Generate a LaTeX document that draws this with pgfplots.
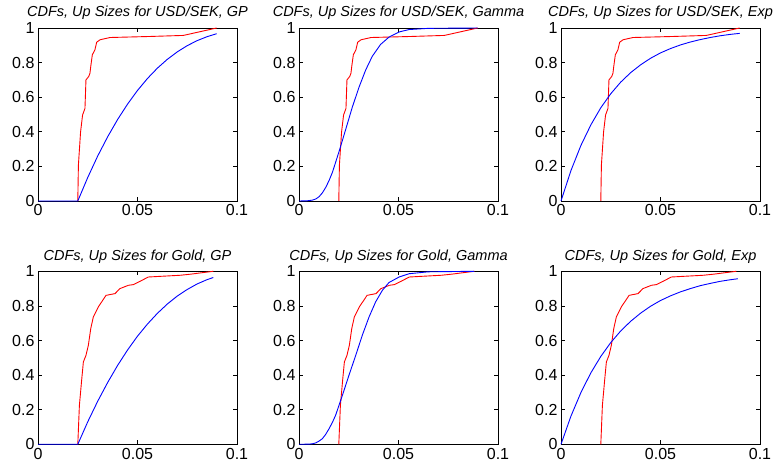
\documentclass[border=0pt]{standalone}
\usepackage{fontspec}
\setmainfont{Liberation Sans}
\usepackage{pgfplots}
\pgfplotsset{compat=1.18}
\usepackage{pgfplotstable}

% empirical CDFs (red)
\pgfplotstableread{
x y
0.0200 0
0.0203 0.207
0.0214 0.400
0.0224 0.497
0.0236 0.535
0.0241 0.700
0.0255 0.720
0.0261 0.738
0.0265 0.777
0.0273 0.845
0.0286 0.874
0.0295 0.918
0.0312 0.932
0.0362 0.945
0.0563 0.951
0.0730 0.957
0.0898 1.000
}\usdemp

\pgfplotstableread{
x y
0.0200 0
0.0208 0.225
0.0220 0.379
0.0228 0.476
0.0241 0.514
0.0253 0.572
0.0265 0.668
0.0278 0.736
0.0303 0.794
0.0320 0.823
0.0342 0.861
0.0387 0.871
0.0412 0.900
0.0454 0.919
0.0479 0.923
0.0513 0.942
0.0554 0.967
0.0714 0.977
0.0764 0.983
0.0881 1.000
}\goldemp

% fitted CDFs (blue)
\pgfplotstableread{
x y
0 0
0.0200 0
0.0250 0.136
0.0300 0.260
0.0350 0.371
0.0400 0.471
0.0450 0.560
0.0500 0.639
0.0550 0.708
0.0600 0.768
0.0650 0.819
0.0700 0.862
0.0750 0.898
0.0800 0.927
0.0850 0.950
0.0898 0.967
}\usdgp

\pgfplotstableread{
x y
0 0
0.0040 0.001
0.0067 0.005
0.0085 0.012
0.0101 0.025
0.0118 0.048
0.0134 0.078
0.0151 0.118
0.0168 0.166
0.0201 0.285
0.0235 0.415
0.0268 0.543
0.0302 0.659
0.0335 0.757
0.0368 0.836
0.0410 0.905
0.0452 0.947
0.0503 0.977
0.0553 0.991
0.0650 0.998
0.0898 1.000
}\usdgam

\pgfplotstableread{
x y
0 0
0.005 0.176
0.010 0.321
0.015 0.440
0.020 0.539
0.025 0.620
0.030 0.687
0.035 0.742
0.040 0.787
0.045 0.825
0.050 0.856
0.055 0.881
0.060 0.902
0.065 0.919
0.070 0.933
0.075 0.945
0.080 0.955
0.085 0.963
0.0898 0.969
}\usdexp

\pgfplotstableread{
x y
0 0
0.0200 0
0.0250 0.130
0.0300 0.249
0.0350 0.357
0.0400 0.456
0.0450 0.545
0.0500 0.625
0.0550 0.695
0.0600 0.757
0.0650 0.811
0.0700 0.857
0.0750 0.895
0.0800 0.927
0.0850 0.952
0.0881 0.964
}\goldgp

\pgfplotstableread{
x y
0 0
0.0050 0.001
0.0067 0.003
0.0084 0.008
0.0100 0.018
0.0117 0.032
0.0134 0.057
0.0151 0.090
0.0168 0.127
0.0184 0.168
0.0218 0.283
0.0251 0.399
0.0285 0.514
0.0318 0.630
0.0352 0.736
0.0385 0.823
0.0419 0.890
0.0452 0.935
0.0503 0.967
0.0553 0.986
0.0650 0.997
0.0881 1.000
}\goldgam

\pgfplotstableread{
x y
0 0
0.005 0.163
0.010 0.299
0.015 0.413
0.020 0.508
0.025 0.588
0.030 0.655
0.035 0.711
0.040 0.758
0.045 0.798
0.050 0.831
0.055 0.858
0.060 0.881
0.065 0.900
0.070 0.917
0.075 0.930
0.080 0.942
0.085 0.951
0.0889 0.957
}\goldexp

\pgfplotsset{
  cdfax/.style={
    scale only axis, width=199pt, height=173pt,
    xmin=0, xmax=0.1, ymin=0, ymax=1,
    xtick={0,0.05,0.1},
    ytick={0,0.2,0.4,0.6,0.8,1},
    scaled ticks=false,
    /pgf/number format/fixed,
    /pgf/number format/precision=2,
    /pgf/number format/assume math mode=true,
    tick align=inside,
    major tick length=4pt,
    tick style={black, line width=0.6pt},
    axis line style={line width=0.8pt},
    tick label style={font=\fontsize{16}{16}\selectfont},
    title style={font=\fontsize{14.5}{14.5}\selectfont\itshape,
      at={(0.5,1)}, anchor=base, yshift=5pt},
    clip=false,
    every axis plot/.append style={no markers, sharp plot, line width=0.9pt},
  },
  emp/.style={red},
  fit/.style={blue},
}

\begin{document}
\begin{tikzpicture}
\useasboundingbox (0,0) rectangle (784pt,473pt);

% ---- top row: USD/SEK ----
\begin{axis}[cdfax, at={(38pt,272pt)}, title={CDFs, Up Sizes for USD/SEK, GP}]
  \addplot[emp] table {\usdemp};
  \addplot[fit] table {\usdgp};
\end{axis}

\begin{axis}[cdfax, at={(299pt,272pt)}, title={CDFs, Up Sizes for USD/SEK, Gamma}]
  \addplot[emp] table {\usdemp};
  \addplot[fit] table {\usdgam};
\end{axis}

\begin{axis}[cdfax, at={(561pt,272pt)}, title={CDFs, Up Sizes for USD/SEK, Exp}]
  \addplot[emp] table {\usdemp};
  \addplot[fit] table {\usdexp};
\end{axis}

% ---- bottom row: Gold ----
\begin{axis}[cdfax, at={(38pt,28.7pt)}, title={CDFs, Up Sizes for Gold, GP}]
  \addplot[emp] table {\goldemp};
  \addplot[fit] table {\goldgp};
\end{axis}

\begin{axis}[cdfax, at={(299pt,28.7pt)}, title={CDFs, Up Sizes for Gold, Gamma}]
  \addplot[emp] table {\goldemp};
  \addplot[fit] table {\goldgam};
\end{axis}

\begin{axis}[cdfax, at={(561pt,28.7pt)}, title={CDFs, Up Sizes for Gold, Exp}]
  \addplot[emp] table {\goldemp};
  \addplot[fit] table {\goldexp};
\end{axis}
\end{tikzpicture}
\end{document}
